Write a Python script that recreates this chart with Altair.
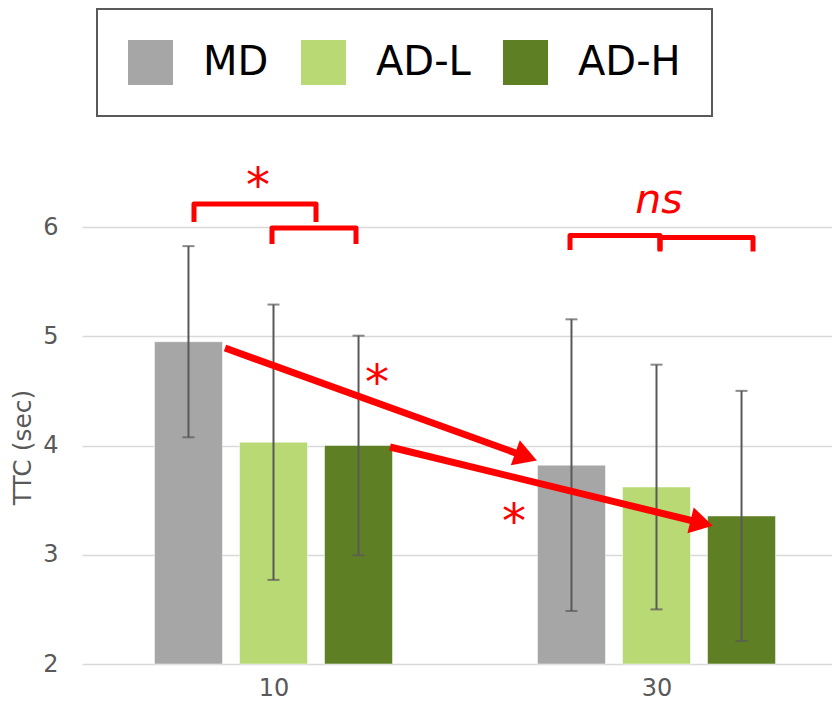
import altair as alt
import pandas as pd

# ---- data ----
groups = ["10", "30"]
series_names = ["MD", "AD-L", "AD-H"]
series_colors = ["#A6A6A6", "#B8D973", "#5F7F25"]
means = {"10": [4.95, 4.03, 4.00], "30": [3.82, 3.62, 3.355]}
errs = {"10": [0.875, 1.26, 1.005], "30": [1.335, 1.12, 1.145]}
y_ticks = [2, 3, 4, 5, 6]

# annotation brackets (x in band units, y in TTC units)
br_x1 = [0.2924, 0.4961, 1.2742, 1.5091]
br_x2 = [0.6110, 0.7154, 1.5091, 1.7520]
br_top = [6.2105, 5.9908, 5.9222, 5.9039]
br_bot = [6.0458, 5.8444, 5.7895, 5.7757]

# arrows: start -> head centre, head angle (deg)
arr_x1 = [0.3734, 0.8042]
arr_y1 = [4.8924, 3.9863]
arr_x2 = [1.1595, 1.6180]
arr_y2 = [3.8975, 3.2906]
arr_ang = [19.85, 13.7]

# text annotations
star_x = [0.4595, 0.7702, 1.1279]
star_y = [6.4577, 4.6545, 3.3822]
ns_x = [1.5065]
ns_y = [6.238]

# ---- layout helpers ----
band_px = 383
width = 750
height = 437
offsets = [-0.222, 0.0, 0.222]
centers = {"10": 0.5, "30": 1.5}

rows = []
for g in groups:
    for i, s in enumerate(series_names):
        m, e = means[g][i], errs[g][i]
        rows.append({"group": g, "series": s, "x": centers[g] + offsets[i],
                     "mean": m, "lo": m - e, "hi": m + e})
bars_df = pd.DataFrame(rows)

br_rows = []
for k in range(len(br_x1)):
    pts = [(br_x1[k], br_bot[k]), (br_x1[k], br_top[k]),
           (br_x2[k], br_top[k]), (br_x2[k], br_bot[k])]
    for j, (px, py) in enumerate(pts):
        br_rows.append({"id": k, "o": j, "x": px, "y": py})
br_df = pd.DataFrame(br_rows)

arr_df = pd.DataFrame({"x": arr_x1, "y": arr_y1, "x2": arr_x2, "y2": arr_y2, "ang": arr_ang})
star_df = pd.DataFrame({"x": star_x, "y": star_y, "t": ["*"] * len(star_x)})
ns_df = pd.DataFrame({"x": ns_x, "y": ns_y, "t": ["ns"]})

xscale = alt.Scale(domain=[0, width / band_px], nice=False, zero=False, padding=0)
yscale = alt.Scale(domain=[y_ticks[0], y_ticks[-1]], nice=False, zero=False, padding=0)

label_expr = "datum.value < 1 ? '%s' : '%s'" % (groups[0], groups[1])

xaxis = alt.Axis(values=[centers[g] for g in groups], labelExpr=label_expr, title=None,
                 grid=False, domain=False, ticks=False, labelFontSize=24,
                 labelColor="#595959", labelFont="DejaVu Sans", labelPadding=12)
yaxis = alt.Axis(values=y_ticks, format="d", title="TTC (sec)", grid=True, gridColor="#D9D9D9",
                 gridWidth=1.5, domain=False, ticks=False, labelFontSize=24,
                 labelColor="#595959", labelFont="DejaVu Sans", labelPadding=24,
                 titleFont="DejaVu Sans", titleFontSize=25, titleColor="#595959",
                 titleFontWeight="normal", titleX=-60, titleY=220, titleAngle=270,
                 titleAlign="center", titleBaseline="middle")

base = alt.Chart(bars_df)
bars = base.mark_bar(size=68, stroke="white", strokeWidth=1, strokeOpacity=0.5).encode(
    x=alt.X("x:Q", scale=xscale, axis=xaxis),
    y=alt.Y("mean:Q", scale=yscale, axis=yaxis),
    y2=alt.datum(y_ticks[0]),
    color=alt.Color("series:N", scale=alt.Scale(domain=series_names, range=series_colors),
                    sort=series_names,
                    legend=alt.Legend(orient="none", legendX=15, legendY=-218,
                                      direction="horizontal", title=None,
                                      strokeColor="#595959", padding=31,
                                      symbolType="square", symbolSize=2025,
                                      symbolStrokeWidth=0, symbolOpacity=1,
                                      labelFont="DejaVu Sans", labelFontSize=40,
                                      labelColor="black", labelOffset=30,
                                      columnPadding=32, labelLimit=400)),
)
err = base.mark_rule(color="#595959", strokeWidth=2).encode(
    x="x:Q", y="lo:Q", y2="hi:Q")
cap_lo = base.mark_tick(color="#595959", orient="horizontal", size=12, thickness=2).encode(
    x="x:Q", y="lo:Q")
cap_hi = base.mark_tick(color="#595959", orient="horizontal", size=12, thickness=2).encode(
    x="x:Q", y="hi:Q")

arrows = alt.Chart(arr_df).mark_rule(color="#FF0000", strokeWidth=7).encode(
    x="x:Q", y="y:Q", x2="x2:Q", y2="y2:Q")
heads = alt.Chart(arr_df).mark_point(shape="triangle-right", filled=True, size=700,
                                     color="#FF0000", opacity=1).encode(
    x="x2:Q", y="y2:Q", angle=alt.Angle("ang:Q", scale=None))

brackets = alt.Chart(br_df).mark_line(color="#FF0000", strokeWidth=5, strokeJoin="round").encode(
    x="x:Q", y="y:Q", detail="id:N", order="o:Q")

stars = alt.Chart(star_df).mark_text(color="#FF0000", fontSize=48, font="DejaVu Sans",
                                     baseline="middle", align="center", dy=11).encode(
    x="x:Q", y="y:Q", text="t:N")
ns = alt.Chart(ns_df).mark_text(color="#FF0000", fontSize=41, font="DejaVu Sans",
                                fontStyle="italic", baseline="middle", align="center").encode(
    x="x:Q", y="y:Q", text="t:N")

chart = alt.layer(bars, err, cap_lo, cap_hi, arrows, heads, brackets, stars, ns).properties(
    width=width, height=height,
    autosize=alt.AutoSizeParams(type="none"),
    padding={"left": 74, "top": 219, "right": 0, "bottom": 37},
).configure_view(stroke=None).configure_legend(strokeWidth=2)

chart.save("out.html", embed_options={"renderer": "svg", "actions": False})
